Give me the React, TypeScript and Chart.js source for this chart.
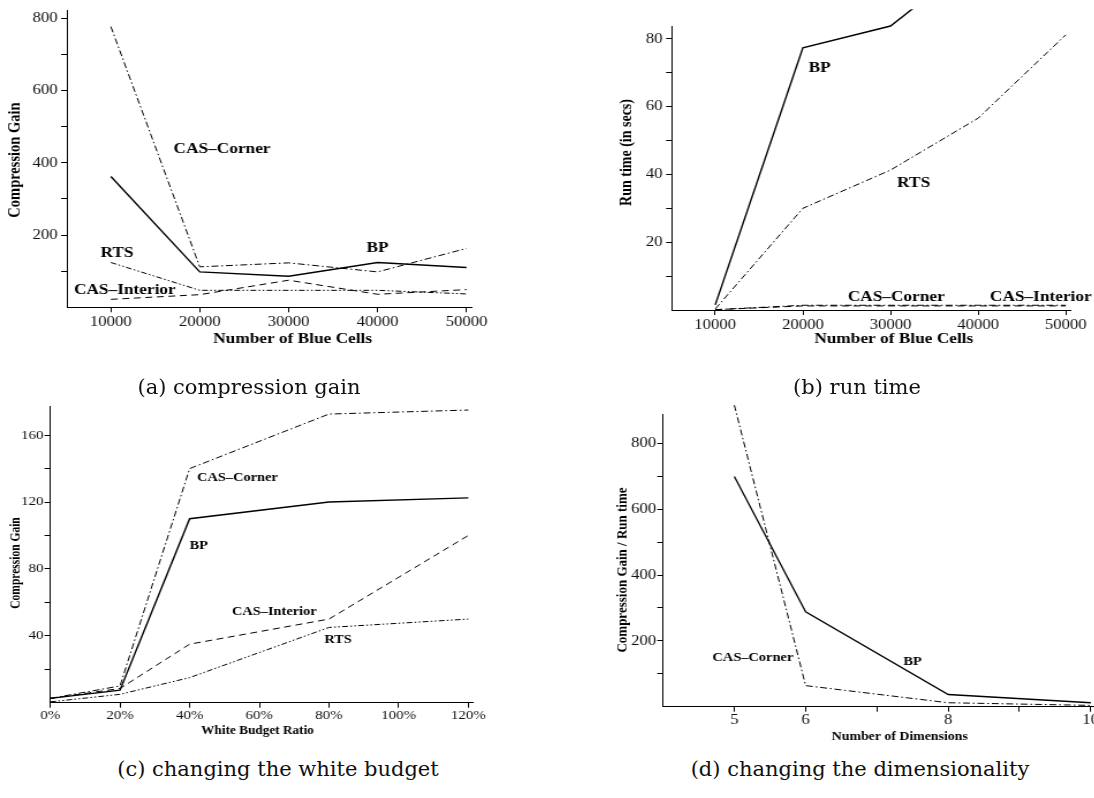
import React, { useEffect, useRef } from 'react';
import { Chart, registerables } from 'chart.js';

Chart.register(...registerables);

// ---------------- data ----------------
// (a) compression gain vs number of blue cells
const blueCells = [10000, 20000, 30000, 40000, 50000];
const gainBP = [362, 98, 86, 124, 110];
const gainCasCorner = [777, 112, 123, 98, 163];
const gainRTS = [124, 47, 47, 47, 37];
const gainCasInterior = [22, 35, 75, 36, 49];

// (b) run time vs number of blue cells
const runBP = [1.5, 77.4, 83.8, 104, 125];
const runRTS = [0.3, 30, 41.3, 56.6, 81.2];
const runCasCorner = [0.1, 1.4, 1.4, 1.4, 1.4];
const runCasInterior = [0.1, 1.2, 1.2, 1.2, 1.2];

// (c) compression gain vs white budget ratio (%)
const budgetRatio = [0, 20, 40, 80, 120];
const budgetBP = [2.6, 7.5, 110, 120, 122.5];
const budgetCasCorner = [2.6, 10, 140, 172.6, 175];
const budgetCasInterior = [2.6, 8.5, 35, 50, 100];
const budgetRTS = [0.5, 5, 15, 45, 50];

// (d) compression gain / run time vs number of dimensions
const dimensions = [5, 6, 8, 10];
const dimBP = [699, 288, 37, 12];
const dimCasCorner = [916, 64, 12, 4];

// ticks
const blueCellTicks = [10000, 20000, 30000, 40000, 50000];
const gainTicks = [100, 200, 300, 400, 500, 600, 700, 800];
const gainTickLabels = [200, 400, 600, 800];
const runTicks = [10, 20, 30, 40, 50, 60, 70, 80];
const runTickLabels = [20, 40, 60, 80];
const budgetTicks = [0, 20, 40, 60, 80, 100, 120];
const budgetYTicks = [20, 40, 60, 80, 100, 120, 140, 160];
const budgetYTickLabels = [40, 80, 120, 160];
const dimTicks = [5, 6, 7, 8, 9, 10];
const dimTickLabels = [5, 6, 8, 10];
const dimYTicks = [100, 200, 300, 400, 500, 600, 700, 800];
const dimYTickLabels = [200, 400, 600, 800];

// in-plot series labels (data coordinates)
const gainNotes = [
  { text: 'CAS–Corner', x: 22500, y: 438 },
  { text: 'BP', x: 40000, y: 164 },
  { text: 'RTS', x: 10700, y: 150 },
  { text: 'CAS–Interior', x: 11575, y: 48 },
];
const runNotes = [
  { text: 'BP', x: 21900, y: 71.3 },
  { text: 'RTS', x: 32640, y: 37.4 },
  { text: 'CAS–Corner', x: 30660, y: 3.7 },
  { text: 'CAS–Interior', x: 47150, y: 3.7 },
];
const budgetNotes = [
  { text: 'CAS–Corner', x: 53.7, y: 134.5 },
  { text: 'BP', x: 42.6, y: 94 },
  { text: 'CAS–Interior', x: 64.3, y: 54.5 },
  { text: 'RTS', x: 82.6, y: 37.5 },
];
const dimNotes = [
  { text: 'CAS–Corner', x: 5.26, y: 149 },
  { text: 'BP', x: 7.5, y: 137 },
];

// ---------------- styles ----------------
const SERIF = '"Liberation Serif", "Times New Roman", serif';
const STRETCH = 1.15;
const SOLID: number[] = [];
const DASHED = [6, 4];
const DASHDOT = [6, 2.5, 1.5, 2.5];
const TWODOT = [5, 2, 1.5, 2, 1.5, 2];

type Series = { name: string; x: number[]; y: number[]; dash: number[]; width: number; clipTop?: number };
type Note = { text: string; x: number; y: number };
type Panel = {
  box: { left: number; top: number; width: number; height: number };
  plot: { left: number; top: number; right: number; bottom: number };
  xMin: number; xMax: number; xTicks: number[]; xLabels: number[]; xFmt: (v: number) => string;
  yMin: number; yMax: number; yTicks: number[]; yLabels: number[];
  series: Series[];
  notes: Note[];
  xTitle: { text: string; cx: number; cy: number };
  yTitle: { text: string; cx: number; cy: number };
  tickSize: number; titleSize: number; yTitleSize: number; noteSize: number;
  padX: number; padY: number;
};

const panels: Panel[] = [
  {
    box: { left: 0, top: 0, width: 547, height: 352 },
    plot: { left: 66.7, top: 10, right: 470.9, bottom: 307.3 },
    xMin: 5050, xMax: 50600, xTicks: blueCellTicks, xLabels: blueCellTicks, xFmt: (v) => String(v),
    yMin: 0, yMax: 823, yTicks: gainTicks, yLabels: gainTickLabels,
    series: [
      { name: 'BP', x: blueCells, y: gainBP, dash: SOLID, width: 1.4 },
      { name: 'CAS-Corner', x: blueCells, y: gainCasCorner, dash: DASHDOT, width: 1 },
      { name: 'RTS', x: blueCells, y: gainRTS, dash: TWODOT, width: 1 },
      { name: 'CAS-Interior', x: blueCells, y: gainCasInterior, dash: DASHED, width: 1 },
    ],
    notes: gainNotes,
    xTitle: { text: 'Number of Blue Cells', cx: 292, cy: 339 },
    yTitle: { text: 'Compression Gain', cx: 15.6, cy: 160 },
    tickSize: 14.5, titleSize: 15, yTitleSize: 14.5, noteSize: 15, padX: 1, padY: 3,
  },
  {
    box: { left: 547, top: 0, width: 547, height: 352 },
    plot: { left: 671.6, top: 26.7, right: 1069.8, bottom: 310 },
    xMin: 5050, xMax: 50580, xTicks: blueCellTicks, xLabels: blueCellTicks, xFmt: (v) => String(v),
    yMin: 0, yMax: 83.6, yTicks: runTicks, yLabels: runTickLabels,
    series: [
      { name: 'BP', x: blueCells, y: runBP, dash: SOLID, width: 1.4, clipTop: 17.4 },
      { name: 'RTS', x: blueCells, y: runRTS, dash: DASHDOT, width: 1 },
      { name: 'CAS-Corner', x: blueCells, y: runCasCorner, dash: DASHDOT, width: 1 },
      { name: 'CAS-Interior', x: blueCells, y: runCasInterior, dash: DASHED, width: 1 },
    ],
    notes: runNotes,
    xTitle: { text: 'Number of Blue Cells', cx: 893, cy: 339 },
    yTitle: { text: 'Run time (in secs)', cx: 627, cy: 152.5 },
    tickSize: 14.5, titleSize: 15, yTitleSize: 14, noteSize: 15, padX: 1, padY: 3,
  },
  {
    box: { left: 0, top: 398, width: 547, height: 352 },
    plot: { left: 50.2, top: 406.7, right: 471.9, bottom: 702.7 },
    xMin: 0, xMax: 121.3, xTicks: budgetTicks, xLabels: budgetTicks, xFmt: (v) => `${v}%`,
    yMin: 0, yMax: 177, yTicks: budgetYTicks, yLabels: budgetYTickLabels,
    series: [
      { name: 'CAS-Corner', x: budgetRatio, y: budgetCasCorner, dash: DASHDOT, width: 1 },
      { name: 'BP', x: budgetRatio, y: budgetBP, dash: SOLID, width: 1.4 },
      { name: 'CAS-Interior', x: budgetRatio, y: budgetCasInterior, dash: DASHED, width: 1 },
      { name: 'RTS', x: budgetRatio, y: budgetRTS, dash: TWODOT, width: 1 },
    ],
    notes: budgetNotes,
    xTitle: { text: 'White Budget Ratio', cx: 257, cy: 731.5 },
    yTitle: { text: 'Compression Gain', cx: 15.8, cy: 563 },
    tickSize: 13, titleSize: 11.5, yTitleSize: 11.5, noteSize: 12.5, padX: 0, padY: 1,
  },
  {
    box: { left: 547, top: 398, width: 547, height: 352 },
    plot: { left: 662.8, top: 414, right: 1094, bottom: 706.7 },
    xMin: 4, xMax: 10.05, xTicks: dimTicks, xLabels: dimTickLabels, xFmt: (v) => String(v),
    yMin: 0, yMax: 889, yTicks: dimYTicks, yLabels: dimYTickLabels,
    series: [
      { name: 'BP', x: dimensions, y: dimBP, dash: SOLID, width: 1.3 },
      { name: 'CAS-Corner', x: dimensions, y: dimCasCorner, dash: DASHDOT, width: 1 },
    ],
    notes: dimNotes,
    xTitle: { text: 'Number of Dimensions', cx: 899, cy: 737 },
    yTitle: { text: 'Compression Gain / Run time', cx: 622.9, cy: 570 },
    tickSize: 14.5, titleSize: 12, yTitleSize: 13, noteSize: 12.5, padX: 0, padY: 1,
  },
];

const captions = [
  { text: '(a) compression gain', cx: 249, cy: 387 },
  { text: '(b) run time', cx: 857, cy: 387 },
  { text: '(c) changing the white budget', cx: 278, cy: 769 },
  { text: '(d) changing the dimensionality', cx: 860, cy: 769 },
];

function PanelChart({ p }: { p: Panel }) {
  const ref = useRef<HTMLCanvasElement>(null);
  useEffect(() => {
    if (!ref.current) return;
    const s = STRETCH;
    const padTop = p.plot.top - p.box.top;
    const padRight = (p.box.left + p.box.width - p.plot.right) / s;
    const yAxisW = (p.plot.left - p.box.left) / s;
    const xAxisH = p.box.top + p.box.height - p.plot.bottom;

    const textPlugin = {
      id: 'panelText',
      afterDraw(chart: any) {
        const ctx = chart.ctx as CanvasRenderingContext2D;
        const xs = chart.scales.x;
        const ys = chart.scales.y;
        ctx.save();
        ctx.fillStyle = '#000';
        ctx.textAlign = 'center';
        ctx.textBaseline = 'middle';
        ctx.font = `bold ${p.noteSize}px ${SERIF}`;
        for (const n of p.notes) {
          ctx.fillText(n.text, xs.getPixelForValue(n.x), ys.getPixelForValue(n.y));
        }
        ctx.font = `bold ${p.titleSize}px ${SERIF}`;
        ctx.fillText(p.xTitle.text, (p.xTitle.cx - p.box.left) / s, p.xTitle.cy - p.box.top);
        ctx.translate((p.yTitle.cx - p.box.left) / s, p.yTitle.cy - p.box.top);
        ctx.rotate(-Math.PI / 2);
        ctx.font = `bold ${p.yTitleSize}px ${SERIF}`;
        ctx.fillText(p.yTitle.text, 0, 0);
        ctx.restore();
      },
    };

    const axisCommon = {
      type: 'linear' as const,
      grid: { drawOnChartArea: false, drawTicks: true, tickLength: 5, tickColor: '#000', color: '#000', lineWidth: 1 },
      border: { display: true, color: '#000', width: 1 },
    };

    const chart = new Chart(ref.current, {
      type: 'line',
      data: {
        datasets: p.series.map((se) => ({
          label: se.name,
          data: se.x.map((x, i) => ({ x, y: se.y[i] })),
          borderColor: '#000',
          backgroundColor: '#000',
          borderWidth: se.width,
          borderDash: se.dash,
          pointRadius: 0,
          tension: 0,
          fill: false,
          clip: se.clipTop !== undefined ? { left: 0, right: 0, bottom: 0, top: se.clipTop } : (false as any),
        })),
      },
      options: {
        animation: false,
        responsive: true,
        maintainAspectRatio: false,
        devicePixelRatio: 1,
        events: [],
        layout: { padding: { left: 0, top: padTop, right: padRight, bottom: 0 } },
        plugins: { legend: { display: false }, tooltip: { enabled: false }, title: { display: false } },
        scales: {
          x: {
            ...axisCommon,
            min: p.xMin,
            max: p.xMax,
            afterBuildTicks: (sc: any) => {
              sc.ticks = p.xTicks.map((v) => ({ value: v }));
            },
            afterFit: (sc: any) => {
              sc.height = xAxisH;
              sc.paddingLeft = 0;
              sc.paddingRight = 0;
            },
            ticks: {
              autoSkip: false,
              maxRotation: 0,
              minRotation: 0,
              padding: p.padX,
              color: '#111',
              font: { family: SERIF, size: p.tickSize },
              callback: (v: any) => (p.xLabels.includes(Number(v)) ? p.xFmt(Number(v)) : ''),
            },
          },
          y: {
            ...axisCommon,
            min: p.yMin,
            max: p.yMax,
            afterBuildTicks: (sc: any) => {
              sc.ticks = p.yTicks.map((v) => ({ value: v }));
            },
            afterFit: (sc: any) => {
              sc.width = yAxisW;
              sc.paddingTop = 0;
              sc.paddingBottom = 0;
            },
            ticks: {
              autoSkip: false,
              padding: p.padY,
              color: '#111',
              font: { family: SERIF, size: p.tickSize },
              callback: (v: any) => (p.yLabels.includes(Number(v)) ? String(v) : ''),
            },
          },
        },
      } as any,
      plugins: [textPlugin],
    });
    return () => chart.destroy();
  }, [p]);

  return (
    <div
      style={{
        position: 'absolute',
        left: p.box.left,
        top: p.box.top,
        width: p.box.width / STRETCH,
        height: p.box.height,
        transform: `scaleX(${STRETCH})`,
        transformOrigin: '0 0',
      }}
    >
      <canvas ref={ref} />
    </div>
  );
}

export default function App() {
  return (
    <div
      style={{
        position: 'fixed',
        left: 0,
        top: 0,
        width: 1094,
        height: 798,
        overflow: 'hidden',
        background: '#fff',
      }}
    >
      {panels.map((p, i) => (
        <PanelChart key={i} p={p} />
      ))}
      {captions.map((c, i) => (
        <div
          key={'c' + i}
          style={{
            position: 'absolute',
            left: c.cx - 250,
            top: c.cy - 15,
            width: 500,
            height: 30,
            lineHeight: '30px',
            textAlign: 'center',
            fontFamily: '"DejaVu Serif", serif',
            fontSize: 21,
            color: '#111',
            whiteSpace: 'nowrap',
          }}
        >
          {c.text}
        </div>
      ))}
    </div>
  );
}
